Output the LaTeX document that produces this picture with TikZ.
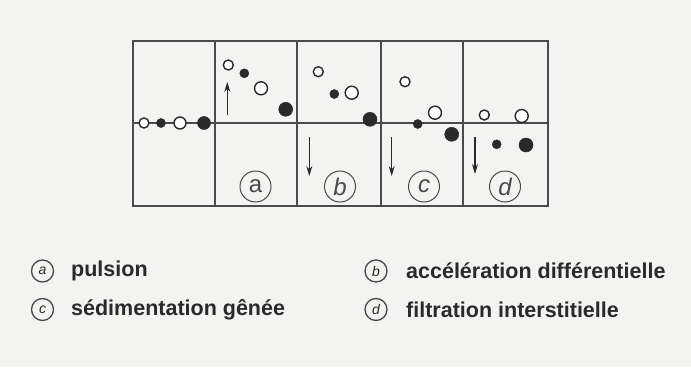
\documentclass[tikz,border=0pt]{standalone}
\usepackage{fontspec}
\setmainfont{Liberation Sans}
\usetikzlibrary{arrows.meta}
\definecolor{bg}{HTML}{F3F3F1}
\definecolor{ln}{HTML}{4A4A4A}
\definecolor{dk}{HTML}{2A2A2A}
\tikzset{
  frameline/.style={draw=ln, line width=1.3pt},
  opc/.style={circle, draw=dk, fill=white, line width=1.4pt, inner sep=0pt, minimum size=#1},
  fic/.style={circle, draw=dk, fill=dk, line width=0.5pt, inner sep=0pt, minimum size=#1},
  motion/.style={draw=dk, line width=1.2pt, -{Stealth[length=10pt,width=6pt]}},
  panellab/.style={circle, draw=ln, line width=1pt, inner sep=0pt, minimum size=31pt, font=\fontsize{24}{24}\selectfont, text=ln},
  leglab/.style={circle, draw=ln, line width=1.3pt, inner sep=0pt, minimum size=22pt, font=\fontsize{14}{14}\selectfont\itshape, text=dk},
  legtext/.style={anchor=west, font=\fontsize{21.5}{21.5}\selectfont\bfseries, text=dk, inner sep=0pt}
}
\begin{document}
\begin{tikzpicture}[x=1pt,y=-1pt]
\fill[bg] (0,0) rectangle (691,367);
\useasboundingbox (0,0) rectangle (691,367);
% frame
\draw[frameline] (133,41) rectangle (548,206);
\draw[frameline] (133,123) -- (548,123);
\foreach \xx in {215,297,381,463} \draw[frameline] (\xx,41) -- (\xx,206);
% left panel (initial state)
\node[opc=10pt] (l1) at (144,123) {};
\node[fic=9pt] (l2) at (161,123) {};
\node[opc=12pt] (l3) at (180,123) {};
\node[fic=13pt] (l4) at (204,123) {};
% panel a
\node[opc=10pt] (a1) at (228.3,65) {};
\node[fic=9pt] (a2) at (244.3,73.3) {};
\node[opc=13pt] (a3) at (261,88.3) {};
\node[fic=14pt] (a4) at (285.7,109.3) {};
\coordinate (aS) at (227.3,115);
\coordinate (aE) at (227.3,82);
\draw[motion] (aS) -- (aE);
\node[panellab] (la) at (255.5,186.5) {a};
% panel b
\node[opc=10pt] (b1) at (318.3,71.7) {};
\node[fic=9pt] (b2) at (334.3,94) {};
\node[opc=13pt] (b3) at (351.7,92.7) {};
\node[fic=14pt] (b4) at (370,119.3) {};
\coordinate (bS) at (309.3,137);
\coordinate (bE) at (309.3,176);
\draw[motion] (bS) -- (bE);
\node[panellab] (lb) at (340,186.5) {\itshape b};
% panel c
\node[opc=10pt] (c1) at (405,81.7) {};
\node[fic=9pt] (c2) at (417.7,124) {};
\node[opc=13pt] (c3) at (435,112.7) {};
\node[fic=14pt] (c4) at (451.7,134.3) {};
\coordinate (cS) at (391.7,137);
\coordinate (cE) at (391.7,176);
\draw[motion] (cS) -- (cE);
\node[panellab] (lc) at (424,186.5) {\itshape c};
% panel d
\node[opc=10pt] (d1) at (484.3,115) {};
\node[opc=13pt] (d2) at (521.7,116) {};
\node[fic=9pt] (d3) at (496.7,144.3) {};
\node[fic=14pt] (d4) at (526,145) {};
\coordinate (dS) at (475,137);
\coordinate (dE) at (475,174);
\draw[motion] (dS) -- (dE);
\node[panellab] (ld) at (505,186.5) {\itshape d};
% legend
\node[leglab] (ka) at (42.5,271) {a};
\node[legtext] (ta) at (71,271) {pulsion};
\node[leglab] (kb) at (376,271) {b};
\node[legtext] (tb) at (406,271) {accélération différentielle};
\node[leglab] (kc) at (42.5,309.5) {c};
\node[legtext] (tc) at (71,309.5) {sédimentation gênée};
\node[leglab] (kd) at (376,309.5) {d};
\node[legtext] (td) at (406,309.5) {filtration interstitielle};
\end{tikzpicture}
\end{document}
